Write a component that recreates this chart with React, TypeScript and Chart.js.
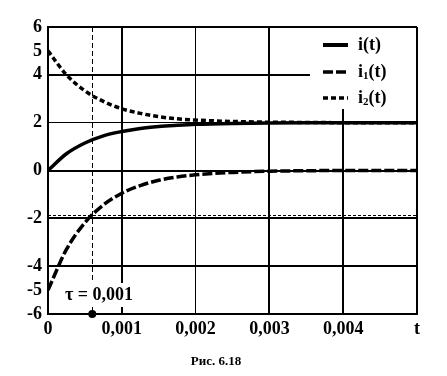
import React, { useEffect, useRef } from "react";
import { Chart, registerables } from "chart.js";
Chart.register(...registerables);

// ---- data ----
const tValues = [0, 0.00025, 0.0005, 0.00075, 0.001, 0.00125, 0.0015, 0.00175, 0.002, 0.0025, 0.003, 0.0035, 0.004, 0.0045, 0.005];
const iValues = [0, 0.7, 1.15, 1.45, 1.63, 1.76, 1.84, 1.89, 1.93, 1.97, 1.99, 2.0, 2.0, 2.0, 2.0];
const i1Values = [-5, -3.3, -2.18, -1.44, -0.95, -0.63, -0.41, -0.27, -0.18, -0.08, -0.03, -0.01, 0, 0, 0];
const i2Values = [5, 4.0, 3.33, 2.89, 2.58, 2.39, 2.25, 2.16, 2.11, 2.05, 2.02, 2.01, 2.0, 2.0, 2.0];

const yTickValues = [-6, -5, -4, -2, 0, 2, 4, 5, 6];
const yNoGrid = [-5, 5];
const xTickValues = [0, 0.001, 0.002, 0.003, 0.004, 0.005];
const xTickLabels = ["0", "0,001", "0,002", "0,003", "0,004", "t"];

const tauValue = 0.0006;
const i1AtTau = -1.84;
const tauLabel = "τ = 0,001";
const legendSubs = ["", "1", "2"];
const caption = "Рис. 6.18";

const FONT = '"Liberation Serif", "Times New Roman", serif';

const dashes: number[][] = [[], [10, 3], [5, 3]];

const overlay = {
  id: "overlay",
  beforeDatasetsDraw(chart: any) {
    const { ctx, chartArea: a, scales } = chart;
    const x = scales.x;
    const y = scales.y;
    ctx.save();
    const xt = Math.round(x.getPixelForValue(tauValue));
    ctx.strokeStyle = "#000";
    ctx.lineWidth = 1;
    ctx.setLineDash([5, 3]);
    ctx.beginPath();
    ctx.moveTo(xt + 0.5, a.top);
    ctx.lineTo(xt + 0.5, a.bottom);
    ctx.stroke();
    const yl = Math.round(y.getPixelForValue(i1AtTau));
    ctx.setLineDash([3, 2]);
    ctx.beginPath();
    ctx.moveTo(a.left, yl + 0.5);
    ctx.lineTo(a.right, yl + 0.5);
    ctx.stroke();
    ctx.setLineDash([]);
    // legend background
    ctx.fillStyle = "#fff";
    ctx.fillRect(a.right - 107, a.top + 1, 106, 81);
    // tau label background
    ctx.fillRect(a.left + 12, a.bottom - 31, 78, 24);
    ctx.restore();
  },
  afterDraw(chart: any) {
    const { ctx, chartArea: a, scales } = chart;
    const x = scales.x;
    ctx.save();
    ctx.fillStyle = "#000";
    ctx.strokeStyle = "#000";
    // dot
    const xt = x.getPixelForValue(tauValue);
    ctx.beginPath();
    ctx.arc(xt, a.bottom, 4, 0, Math.PI * 2);
    ctx.fill();
    // tau label
    ctx.font = `bold 18px ${FONT}`;
    ctx.textBaseline = "middle";
    ctx.textAlign = "left";
    ctx.fillText(tauLabel, a.left + 17, a.bottom - 19);
    // legend
    const rows = [a.top + 18, a.top + 45, a.top + 71];
    const sx0 = a.right - 94;
    const sx1 = a.right - 69;
    rows.forEach((ry, k) => {
      ctx.lineWidth = k === 0 ? 4 : 3.5;
      ctx.setLineDash(dashes[k]);
      ctx.beginPath();
      ctx.moveTo(sx0, ry);
      ctx.lineTo(sx1, ry);
      ctx.stroke();
      ctx.setLineDash([]);
      let tx = a.right - 59;
      ctx.font = `bold 18px ${FONT}`;
      ctx.fillText("i", tx, ry);
      tx += ctx.measureText("i").width;
      if (legendSubs[k]) {
        ctx.font = `bold 11px ${FONT}`;
        ctx.fillText(legendSubs[k], tx, ry + 4);
        tx += ctx.measureText(legendSubs[k]).width;
        ctx.font = `bold 18px ${FONT}`;
      }
      ctx.fillText("(t)", tx, ry);
    });
    // caption
    ctx.font = `bold 13px ${FONT}`;
    ctx.textAlign = "center";
    ctx.fillText(caption, 216, 362);
    ctx.restore();
  },
};

export default function App() {
  const ref = useRef<HTMLCanvasElement | null>(null);
  useEffect(() => {
    if (!ref.current) return;
    const mk = (data: number[]) => tValues.map((t, k) => ({ x: t, y: data[k] }));
    const chart = new Chart(ref.current, {
      type: "line",
      data: {
        datasets: [
          { label: "i(t)", data: mk(iValues), borderColor: "#000", borderWidth: 3.5, pointRadius: 0, cubicInterpolationMode: "monotone" },
          { label: "i1(t)", data: mk(i1Values), borderColor: "#000", borderWidth: 3.5, borderDash: dashes[1], pointRadius: 0, cubicInterpolationMode: "monotone" },
          { label: "i2(t)", data: mk(i2Values), borderColor: "#000", borderWidth: 3.5, borderDash: dashes[2], pointRadius: 0, cubicInterpolationMode: "monotone" },
        ],
      },
      options: {
        animation: false,
        responsive: false,
        devicePixelRatio: 1,
        layout: { padding: { top: 27, right: 30, left: 0, bottom: 0 } },
        plugins: { legend: { display: false }, tooltip: { enabled: false } },
        scales: {
          x: {
            type: "linear",
            min: 0,
            max: 0.005,
            afterBuildTicks: (s: any) => { s.ticks = xTickValues.map((v) => ({ value: v })); },
            afterFit: (s: any) => { s.height = 62; },
            ticks: {
              autoSkip: false,
              maxRotation: 0,
              padding: 5,
              color: "#000",
              font: { family: FONT, size: 18, weight: "bold" },
              callback: (_v: any, idx: number) => xTickLabels[idx],
            },
            grid: {
              color: "#000",
              lineWidth: (c: any) => (c.index === 2 ? 1 : 2),
              drawTicks: false,
            },
            border: { display: true, color: "#000", width: 2 },
          },
          y: {
            type: "linear",
            min: -6,
            max: 6,
            afterBuildTicks: (s: any) => { s.ticks = yTickValues.map((v) => ({ value: v })); },
            afterFit: (s: any) => { s.width = 48; },
            ticks: {
              autoSkip: false,
              padding: 6,
              color: "#000",
              font: { family: FONT, size: 18, weight: "bold" },
              callback: (v: any) => String(v),
            },
            grid: {
              color: (c: any) => (c.tick && yNoGrid.includes(c.tick.value) ? "rgba(0,0,0,0)" : "#000"),
              lineWidth: (c: any) => (c.tick && c.tick.value === 2 ? 1 : 2),
              drawTicks: false,
            },
            border: { display: true, color: "#000", width: 2 },
          },
        },
      } as any,
      plugins: [overlay],
    });
    return () => chart.destroy();
  }, []);
  return (
    <div style={{ position: "fixed", left: 0, top: 0, width: 447, height: 376, background: "#fff" }}>
      <canvas ref={ref} width={447} height={376} style={{ display: "block" }} />
    </div>
  );
}
